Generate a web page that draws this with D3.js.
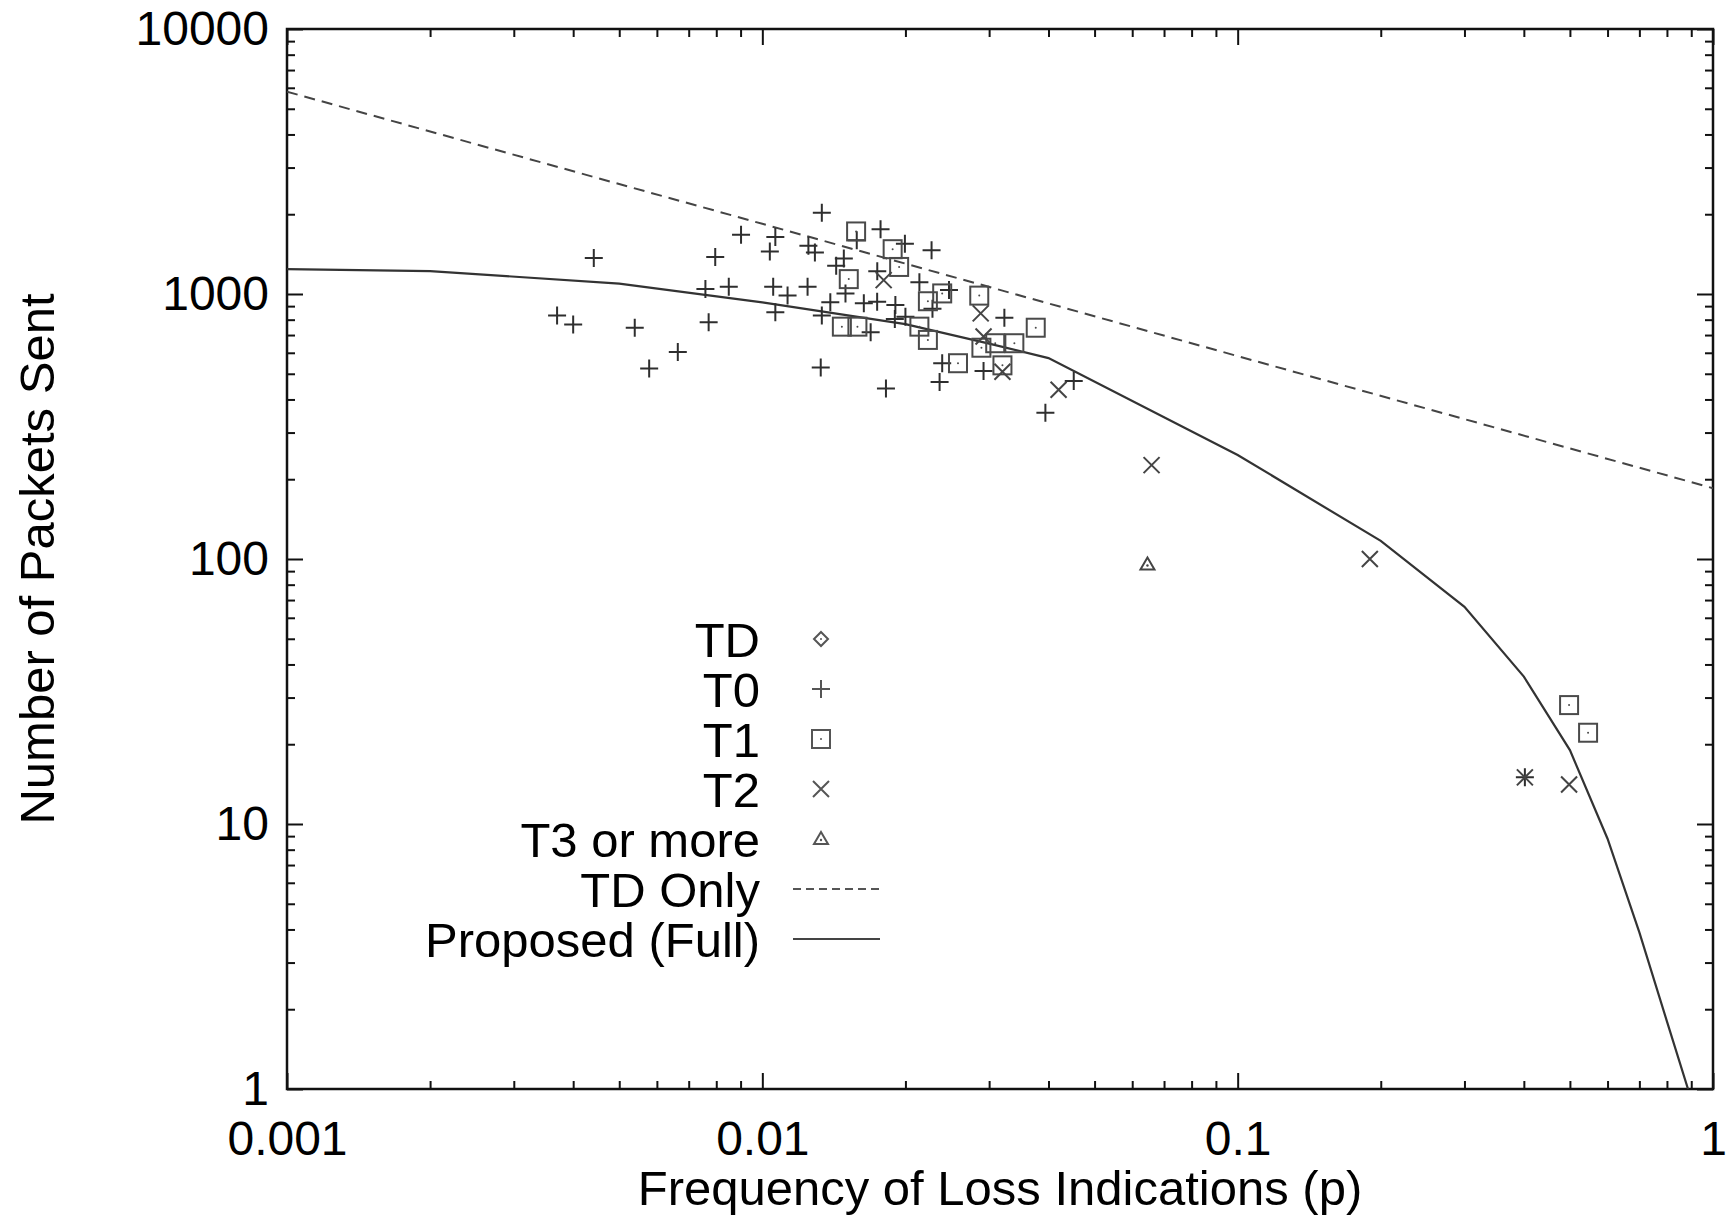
<!DOCTYPE html>
<html>
<head>
<meta charset="utf-8">
<script src="https://cdn.jsdelivr.net/npm/d3@7"></script>
<style>
  body { margin: 0; background: #fff; }
  text { font-family: "Liberation Sans", Arial, sans-serif; fill: #000; }
</style>
</head>
<body>
<div id="chart"></div>
<script>
// loss frequency vs packets sent, log-log

// axis ticks
const xMajor = [0.001, 0.01, 0.1, 1];
const xLabels = ["0.001", "0.01", "0.1", "1"];
const yMajor = [1, 10, 100, 1000, 10000];
const yLabels = ["1", "10", "100", "1000", "10000"];

// model curves
const tdOnlyP = [0.001, 0.01, 0.1, 1];
const tdOnlyN = [5800, 1840, 583, 185];
const fullP = [0.001, 0.002, 0.005, 0.01, 0.02, 0.03, 0.04, 0.1, 0.2, 0.3, 0.4, 0.5, 0.6, 0.7, 0.8, 0.886];
const fullN = [1242, 1220, 1095, 930, 770, 650, 573, 247, 117, 66, 36, 19, 8.8, 3.9, 1.8, 1];

// measured traces, by timeout class
const tdP = [];
const tdN = [];
const t0P = [0.0037, 0.0040, 0.00442, 0.00539, 0.00578, 0.00664, 0.00771, 0.00759, 0.00796, 0.0085,
  0.00902, 0.01037, 0.01065, 0.01054, 0.01065, 0.0113, 0.01245, 0.0125, 0.0129, 0.01334,
  0.01327, 0.01334, 0.0139, 0.0143, 0.01484, 0.01496, 0.01635, 0.0158, 0.01773, 0.0169,
  0.01744, 0.01745, 0.0182, 0.01905, 0.019, 0.02, 0.01995, 0.0214, 0.0227, 0.0228,
  0.0236, 0.0239, 0.0247, 0.0292, 0.0323, 0.0394, 0.0452, 0.402];
const t0N = [829, 768, 1367, 746, 523, 604, 783, 1045, 1380, 1065,
  1672, 1448, 1641, 1065, 853, 986, 1065, 1520, 1434, 2028,
  528, 829, 930, 1277, 1362, 1005, 922, 1594, 1755, 718,
  935, 1218, 440, 908, 805, 821, 1549, 1107, 1462, 879,
  466, 548, 1035, 512, 813, 356, 470, 15.0];
const t1P = [0.01575, 0.0188, 0.0194, 0.0152, 0.0147, 0.01585, 0.0223, 0.0239, 0.0214, 0.0223,
  0.0258, 0.0286, 0.0289, 0.0309, 0.032, 0.0339, 0.0376, 0.498, 0.546];
const t1N = [1722, 1476, 1265, 1138, 753, 753, 939, 1005, 753, 671,
  548, 986, 627, 652, 538, 652, 746, 28.1, 22.1];
const t2P = [0.018, 0.0288, 0.0292, 0.032, 0.042, 0.0659, 0.1897, 0.402, 0.498];
const t2N = [1128, 845, 691, 509, 435, 226, 100, 15.0, 14.1];
const t3P = [0.0646];
const t3N = [95.3];

const width = 1736;
const height = 1219;
const margin = { left: 287, right: 23, top: 29, bottom: 130 };
const iw = width - margin.left - margin.right;
const ih = height - margin.top - margin.bottom;

const svg = d3.select("#chart").append("svg")
  .attr("width", width)
  .attr("height", height);

const g = svg.append("g")
  .attr("transform", `translate(${margin.left},${margin.top})`);

const x = d3.scaleLog().domain([0.001, 1]).range([0, iw]);
const y = d3.scaleLog().domain([1, 10000]).range([ih, 0]);

// minor ticks 2..9 in each decade
const minors = (lo, hi) => {
  const out = [];
  for (let d = lo; d < hi; d *= 10)
    for (let k = 2; k <= 9; k++) out.push(d * k);
  return out;
};
const xMinor = minors(0.001, 1);
const yMinor = minors(1, 10000);

const fontSize = 49;
const tickFont = 48;
const tickColor = "#111";

function styleAxis(sel) {
  sel.select(".domain").remove();
  sel.selectAll("line").attr("stroke", tickColor).attr("stroke-width", 2);
  sel.selectAll("text").attr("font-size", tickFont).attr("fill", "#000")
    .attr("font-family", "Liberation Sans, Arial, sans-serif");
}

// bottom axis with labels
g.append("g").attr("transform", `translate(0,${ih})`)
  .call(d3.axisBottom(x).tickValues(xMajor).tickSize(-16).tickPadding(32)
    .tickFormat((d, i) => xLabels[i]))
  .call(styleAxis);
g.append("g").attr("transform", `translate(0,${ih})`)
  .call(d3.axisBottom(x).tickValues(xMinor).tickSize(-8).tickFormat(""))
  .call(styleAxis);
// top mirror
g.append("g")
  .call(d3.axisTop(x).tickValues(xMajor).tickSize(-16).tickFormat(""))
  .call(styleAxis);
g.append("g")
  .call(d3.axisTop(x).tickValues(xMinor).tickSize(-8).tickFormat(""))
  .call(styleAxis);

// left axis with labels
g.append("g")
  .call(d3.axisLeft(y).tickValues(yMajor).tickSize(-16).tickPadding(18)
    .tickFormat((d, i) => yLabels[i]))
  .call(styleAxis);
g.append("g")
  .call(d3.axisLeft(y).tickValues(yMinor).tickSize(-8).tickFormat(""))
  .call(styleAxis);
// right mirror
g.append("g").attr("transform", `translate(${iw},0)`)
  .call(d3.axisRight(y).tickValues(yMajor).tickSize(-16).tickFormat(""))
  .call(styleAxis);
g.append("g").attr("transform", `translate(${iw},0)`)
  .call(d3.axisRight(y).tickValues(yMinor).tickSize(-8).tickFormat(""))
  .call(styleAxis);

// frame
g.append("rect")
  .attr("width", iw).attr("height", ih)
  .attr("fill", "none").attr("stroke", "#111").attr("stroke-width", 2.5);

// clip for curves
svg.append("defs").append("clipPath").attr("id", "plot")
  .append("rect").attr("width", iw).attr("height", ih);

const line = d3.line().x(d => x(d[0])).y(d => y(d[1]));

g.append("path")
  .datum(tdOnlyP.map((p, i) => [p, tdOnlyN[i]]))
  .attr("clip-path", "url(#plot)")
  .attr("d", line)
  .attr("fill", "none")
  .attr("stroke", "#444")
  .attr("stroke-width", 2)
  .attr("stroke-dasharray", "11,7");

g.append("path")
  .datum(fullP.map((p, i) => [p, fullN[i]]))
  .attr("clip-path", "url(#plot)")
  .attr("d", line)
  .attr("fill", "none")
  .attr("stroke", "#333")
  .attr("stroke-width", 2.2);

// point symbols, gnuplot style
const symbols = {
  diamond: (s, c) => {
    s.append("path").attr("d", "M0,-7L7,0L0,7L-7,0Z")
      .attr("fill", "none").attr("stroke", c).attr("stroke-width", 2);
    s.append("circle").attr("r", 1).attr("fill", c);
  },
  plus: (s, c) => {
    s.append("path").attr("d", "M-9,0H9M0,-9V9")
      .attr("stroke", c).attr("stroke-width", 2);
  },
  square: (s, c) => {
    s.append("rect").attr("x", -9).attr("y", -9).attr("width", 18).attr("height", 18)
      .attr("fill", "none").attr("stroke", c).attr("stroke-width", 2);
    s.append("circle").attr("r", 1).attr("fill", c);
  },
  cross: (s, c) => {
    s.append("path").attr("d", "M-8,-8L8,8M-8,8L8,-8")
      .attr("stroke", c).attr("stroke-width", 2);
  },
  triangle: (s, c) => {
    s.append("path").attr("d", "M0,-7L7,5H-7Z")
      .attr("fill", "none").attr("stroke", c).attr("stroke-width", 2);
    s.append("circle").attr("cy", 1).attr("r", 1.2).attr("fill", c);
  }
};

const series = [
  { name: "TD", p: tdP, n: tdN, sym: "diamond", color: "#555" },
  { name: "T0", p: t0P, n: t0N, sym: "plus", color: "#2e2e2e" },
  { name: "T1", p: t1P, n: t1N, sym: "square", color: "#4a4a4a" },
  { name: "T2", p: t2P, n: t2N, sym: "cross", color: "#444" },
  { name: "T3 or more", p: t3P, n: t3N, sym: "triangle", color: "#444" }
];

series.forEach(s => {
  g.append("g").selectAll("g")
    .data(s.p.map((p, i) => [p, s.n[i]]))
    .enter().append("g")
    .attr("transform", d => `translate(${x(d[0])},${y(d[1])})`)
    .each(function () { symbols[s.sym](d3.select(this), s.color); });
});

// legend
const legX = 760 - margin.left;
const legY0 = 639 - margin.top;
const legStep = 50;
const legend = g.append("g");

series.forEach((s, i) => {
  const yy = legY0 + i * legStep;
  legend.append("text")
    .attr("x", legX).attr("y", yy).attr("dy", "0.36em")
    .attr("text-anchor", "end").attr("font-size", fontSize)
    .text(s.name);
  const m = legend.append("g").attr("transform", `translate(${821 - margin.left},${yy})`);
  symbols[s.sym](m, "#555");
});

const lineKeys = [
  { name: "TD Only", dash: "8,5", color: "#555" },
  { name: "Proposed (Full)", dash: null, color: "#444" }
];
lineKeys.forEach((k, j) => {
  const yy = legY0 + (series.length + j) * legStep;
  legend.append("text")
    .attr("x", legX).attr("y", yy).attr("dy", "0.36em")
    .attr("text-anchor", "end").attr("font-size", fontSize)
    .text(k.name);
  legend.append("line")
    .attr("x1", 793 - margin.left).attr("x2", 880 - margin.left)
    .attr("y1", yy).attr("y2", yy)
    .attr("stroke", k.color).attr("stroke-width", 2.2)
    .attr("stroke-dasharray", k.dash);
});

// axis titles
svg.append("text")
  .attr("x", margin.left + iw / 2).attr("y", 1205)
  .attr("text-anchor", "middle").attr("font-size", fontSize)
  .text("Frequency of Loss Indications (p)");

svg.append("text")
  .attr("transform", `translate(54,${margin.top + ih / 2}) rotate(-90)`)
  .attr("text-anchor", "middle").attr("font-size", fontSize)
  .text("Number of Packets Sent");
</script>
</body>
</html>
